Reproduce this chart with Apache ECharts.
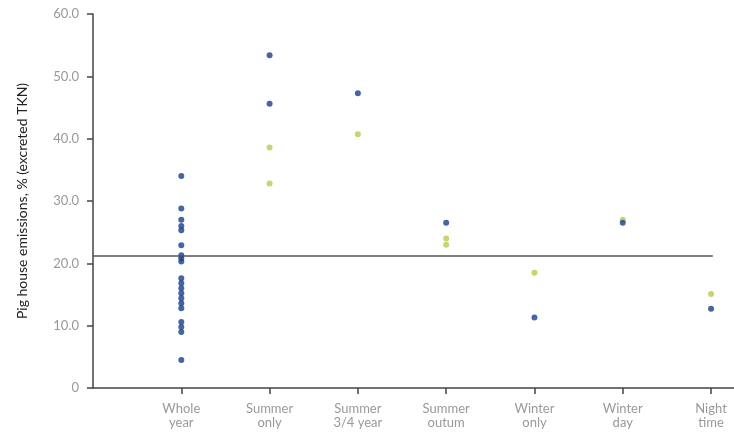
<!DOCTYPE html>
<html>
<head>
<meta charset="utf-8">
<script src="https://cdn.jsdelivr.net/npm/echarts@6/dist/echarts.min.js"></script>
<style>
  html, body { margin: 0; padding: 0; background: #fff; }
  #chart { width: 734px; height: 434px; }
</style>
</head>
<body>
<div id="chart"></div>
<script>
// categories along x (positions 1..7)
const categories = ['Whole\nyear', 'Summer\nonly', 'Summer\n3/4 year', 'Summer\noutum', 'Winter\nonly', 'Winter\nday', 'Night\ntime'];
const categoryPos = [1, 2, 3, 4, 5, 6, 7];

// blue points: [category position, emission %]
const bluePoints = [
  [1, 34.0], [1, 28.8], [1, 27.0], [1, 26.0], [1, 25.3], [1, 22.9], [1, 21.3], [1, 20.8], [1, 20.3],
  [1, 17.6], [1, 16.8], [1, 16.0], [1, 15.2], [1, 14.4], [1, 13.6], [1, 12.8], [1, 10.6], [1, 9.8],
  [1, 9.0], [1, 4.5],
  [2, 53.4], [2, 45.6],
  [3, 47.3],
  [4, 26.5],
  [5, 11.3],
  [6, 26.5],
  [7, 12.7]
];

// yellow-green points
const greenPoints = [
  [2, 38.6], [2, 32.8],
  [3, 40.7],
  [4, 24.0], [4, 23.0],
  [5, 18.5],
  [6, 27.0],
  [7, 15.1]
];

const refLevel = 21.2;
const refEnd = 7.02;

const chart = echarts.init(document.getElementById('chart'));

chart.setOption({
  animation: false,
  backgroundColor: '#fff',
  textStyle: { fontFamily: 'Lato, sans-serif' },
  grid: { left: 93, right: 0, top: 14, bottom: 46 },
  xAxis: {
    type: 'value',
    min: 0,
    max: 7.26,
    splitLine: { show: false },
    axisLine: { show: true, lineStyle: { color: '#444', width: 1.5 } },
    axisTick: { show: true, length: 6, customValues: categoryPos, lineStyle: { color: '#444', width: 1.5 } },
    axisLabel: {
      customValues: categoryPos,
      color: '#999',
      fontSize: 13,
      lineHeight: 14,
      margin: 14,
      formatter: function (v) { return categories[Math.round(v) - 1] || ''; }
    }
  },
  yAxis: {
    type: 'value',
    min: 0,
    max: 60,
    interval: 10,
    name: 'Pig house emissions, % (excreted TKN)',
    nameLocation: 'middle',
    nameGap: 64,
    nameTextStyle: { color: '#222', fontSize: 14 },
    splitLine: { show: false },
    axisLine: { show: true, lineStyle: { color: '#444', width: 1.5 } },
    axisTick: { show: true, length: 6, lineStyle: { color: '#444', width: 1.5 } },
    axisLabel: {
      color: '#999',
      fontSize: 13,
      margin: 14,
      formatter: function (v) { return v === 0 ? '0' : v.toFixed(1); }
    }
  },
  series: [
    {
      type: 'scatter',
      data: greenPoints,
      symbol: 'circle',
      symbolSize: 6,
      itemStyle: { color: '#b9c94c' },
      z: 2
    },
    {
      type: 'scatter',
      data: bluePoints,
      symbol: 'circle',
      symbolSize: 6,
      itemStyle: { color: '#183f8c' },
      z: 3,
      markLine: {
        silent: true,
        symbol: 'none',
        label: { show: false },
        lineStyle: { color: '#555', width: 1.5, type: 'solid' },
        data: [[{ coord: [0, refLevel] }, { coord: [refEnd, refLevel] }]]
      }
    }
  ]
});
</script>
</body>
</html>
